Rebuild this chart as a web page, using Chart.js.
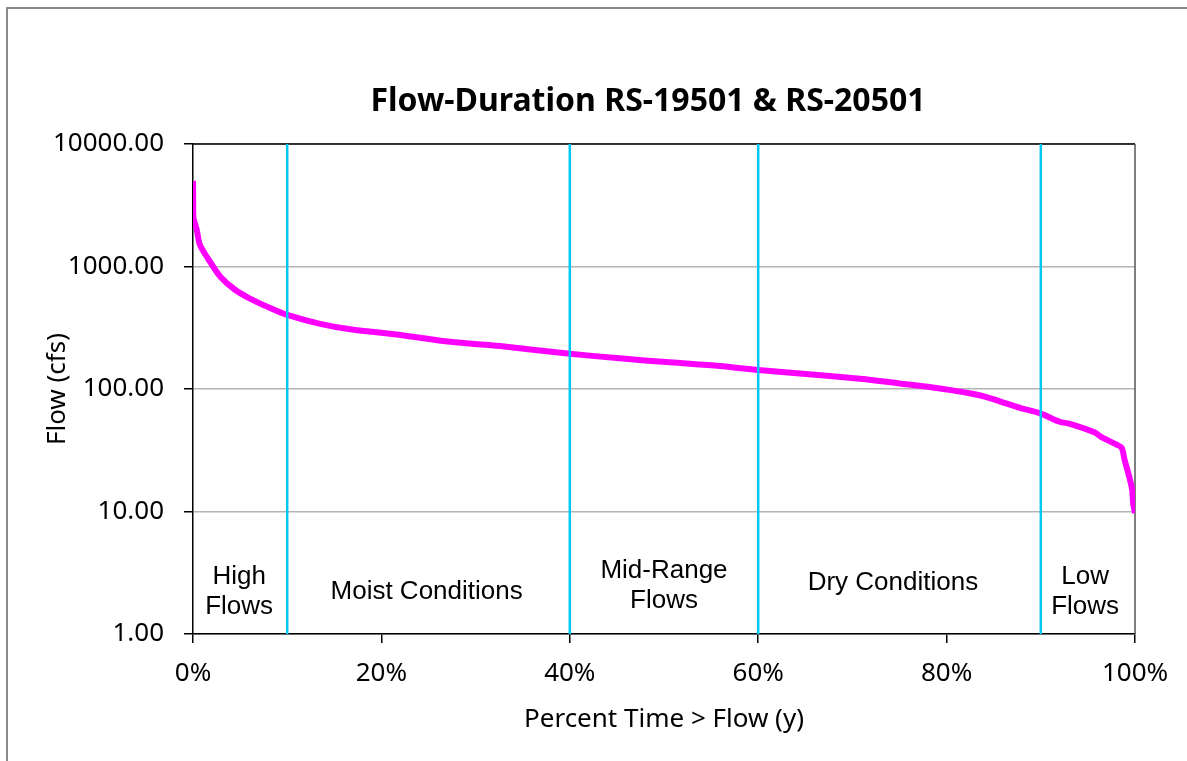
<!DOCTYPE html>
<html>
<head>
<meta charset="utf-8">
<script src="https://cdn.jsdelivr.net/npm/chart.js@4"></script>
<style>
  html, body { margin: 0; padding: 0; background: #fff; overflow: hidden; }
  #wrap { position: relative; width: 1187px; height: 761px; }
  #frame { position: absolute; left: 6px; top: 7px; width: 1300px; height: 900px;
           border-top: 2px solid #8a8a8a; border-left: 2px solid #8a8a8a; pointer-events: none; }
</style>
</head>
<body>
<div id="wrap">
  <canvas id="grafico" width="1187" height="761"></canvas>
  <div id="frame"></div>
</div>
<script>
// Curva de permanência (fração do tempo, vazão em cfs)
const pct = [0, 0.0002, 0.0005, 0.004, 0.0074, 0.018, 0.029, 0.045, 0.06, 0.082, 0.1,
  0.135, 0.167, 0.22, 0.273, 0.326, 0.4, 0.453, 0.506, 0.559, 0.6, 0.644, 0.708,
  0.75, 0.793, 0.835, 0.857, 0.878, 0.9, 0.92, 0.931, 0.958, 0.963, 0.981, 0.986,
  0.989, 0.994, 0.997, 0.998, 1.0];
const flow = [5000, 3400, 2500, 1990, 1500, 1095, 826, 643, 550, 458, 402,
  340, 307, 276, 243, 224, 194, 178, 165, 154, 143, 134, 121,
  111, 101, 89, 79, 70, 63, 54, 52, 44, 41, 35, 33,
  26.3, 19.1, 15, 11.7, 9.7];

// Limites das faixas de vazão
const divisores = [0.1, 0.4, 0.6, 0.9];

// Rótulos das faixas (texto, posição x em fração, posição y em cfs)
const faixas = [['High', 'Flows'], ['Moist Conditions'], ['Mid-Range', 'Flows'], ['Dry Conditions'], ['Low', 'Flows']];
const faixasX = [0.049, 0.248, 0.5, 0.743, 0.947];
const faixasY = [2.22, 2.22, 2.45, 2.64, 2.22];

const yTicks = [1, 10, 100, 1000, 10000];
const xTicks = [0, 0.2, 0.4, 0.6, 0.8, 1];

const titulo = 'Flow-Duration RS-19501 & RS-20501';

const curva = pct.map((p, i) => ({ x: p, y: flow[i] }));

const datasets = [{
  data: curva,
  borderColor: '#ff00ff',
  borderWidth: 6,
  pointRadius: 0,
  tension: 0.3,
  order: 2
}];
divisores.forEach(d => {
  datasets.push({
    data: [{ x: d, y: yTicks[0] }, { x: d, y: yTicks[yTicks.length - 1] }],
    borderColor: '#00c8f5',
    borderWidth: 2.5,
    pointRadius: 0,
    order: 1
  });
});

const fam = '"Noto Sans", "Open Sans", sans-serif';

const molduraPlot = {
  id: 'molduraPlot',
  beforeDatasetsDraw(chart) {
    const a = chart.chartArea, ctx = chart.ctx;
    ctx.save();
    ctx.strokeStyle = '#000';
    ctx.lineWidth = 1.5;
    ctx.beginPath();
    ctx.moveTo(a.left, a.top);
    ctx.lineTo(a.right, a.top);
    ctx.stroke();
    ctx.strokeStyle = '#555';
    ctx.beginPath();
    ctx.moveTo(a.right, a.top);
    ctx.lineTo(a.right, a.bottom);
    ctx.stroke();
    ctx.restore();
  },
  afterDatasetsDraw(chart) {
    const ctx = chart.ctx, sx = chart.scales.x, sy = chart.scales.y;
    ctx.save();
    ctx.fillStyle = '#000';
    ctx.font = '26px "Liberation Sans", Arial, sans-serif';
    ctx.textAlign = 'center';
    ctx.textBaseline = 'middle';
    faixas.forEach((linhas, i) => {
      const cx = sx.getPixelForValue(faixasX[i]);
      const cy = sy.getPixelForValue(faixasY[i]);
      const h = 30;
      linhas.forEach((t, j) => {
        ctx.fillText(t, cx, cy + (j - (linhas.length - 1) / 2) * h);
      });
    });
    // título
    ctx.font = 'bold 32px ' + fam;
    ctx.fillText(titulo, 648, 102);
    ctx.restore();
  }
};

const fonte = { family: fam, size: 26 };

new Chart(document.getElementById('grafico').getContext('2d'), {
  type: 'line',
  data: { datasets: datasets },
  options: {
    responsive: false,
    animation: false,
    layout: { padding: { left: 36, right: 52, bottom: 20, top: 144 } },
    plugins: {
      legend: { display: false },
      tooltip: { enabled: false },
      title: { display: false }
    },
    scales: {
      x: {
        type: 'linear',
        min: 0,
        max: 1,
        afterFit(axis) { axis.height = 107; },
        afterBuildTicks(axis) { axis.ticks = xTicks.map(v => ({ value: v })); },
        ticks: {
          color: '#000',
          font: fonte,
          padding: 15,
          maxRotation: 0,
          callback: v => Math.round(v * 100) + '%'
        },
        grid: { drawOnChartArea: false, drawTicks: true, tickLength: 9, tickColor: '#000', lineWidth: 1.5 },
        border: { color: '#000', width: 1.5 },
        title: {
          display: true,
          text: 'Percent Time > Flow (y)',
          color: '#000',
          font: fonte,
          padding: { top: 0, bottom: 6 }
        }
      },
      y: {
        type: 'logarithmic',
        min: 1,
        max: 10000,
        afterFit(axis) { axis.width = 157; },
        afterBuildTicks(axis) { axis.ticks = yTicks.map(v => ({ value: v })); },
        ticks: {
          color: '#000',
          font: fonte,
          padding: 20,
          callback: v => Number(v).toFixed(2)
        },
        grid: { color: '#b4b4b4', lineWidth: 1.5, tickLength: 9, tickColor: '#000' },
        border: { color: '#000', width: 1.5 },
        title: {
          display: true,
          text: 'Flow (cfs)',
          color: '#000',
          font: fonte,
          padding: { top: 6, bottom: 0 }
        }
      }
    }
  },
  plugins: [molduraPlot]
});
</script>
</body>
</html>
